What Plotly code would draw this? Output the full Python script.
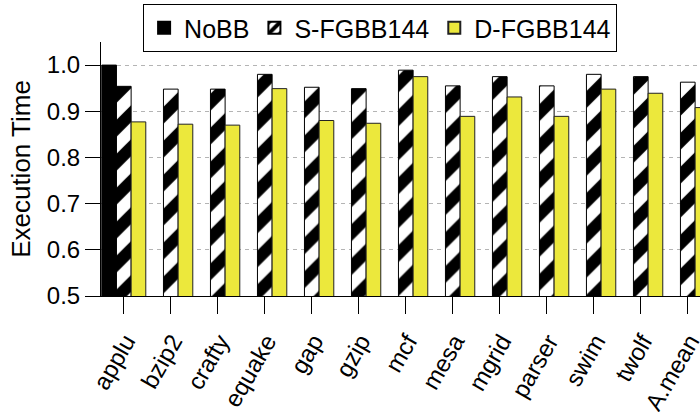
import plotly.graph_objects as go

benchmarks = ["applu", "bzip2", "crafty", "equake", "gap", "gzip", "mcf",
              "mesa", "mgrid", "parser", "swim", "twolf", "A.mean"]

# Normalised execution time (NoBB baseline only shown for the first benchmark)
nobb = [1.0, None, None, None, None, None, None, None, None, None, None, None, None]
s_fgbb144 = [0.954, 0.948, 0.948, 0.980, 0.952, 0.949, 0.989,
             0.955, 0.975, 0.955, 0.980, 0.975, 0.963]
d_fgbb144 = [0.877, 0.872, 0.870, 0.949, 0.880, 0.874, 0.975,
             0.889, 0.931, 0.889, 0.948, 0.939, 0.908]

yticks = [0.5, 0.6, 0.7, 0.8, 0.9, 1.0]

FONT = "Liberation Sans, Arial, Helvetica, sans-serif"

fig = go.Figure()
fig.add_trace(go.Bar(
    name="NoBB", x=benchmarks, y=nobb,
    marker=dict(color="black", line=dict(color="black", width=1)),
))
fig.add_trace(go.Bar(
    name="S-FGBB144", x=benchmarks, y=s_fgbb144,
    marker=dict(color="white", line=dict(color="black", width=1),
                pattern=dict(shape="/", fgcolor="black", bgcolor="white",
                             size=24, solidity=0.5, fillmode="replace")),
))
fig.add_trace(go.Bar(
    name="D-FGBB144", x=benchmarks, y=d_fgbb144,
    marker=dict(color="#ece83c", line=dict(color="#222222", width=1)),
))

fig.update_layout(
    width=700, height=412,
    margin=dict(l=101, r=0, t=42, b=116, autoexpand=False),
    paper_bgcolor="white", plot_bgcolor="white",
    barmode="group", bargap=0.064, bargroupgap=0,
    font=dict(family=FONT, size=24, color="black"),
    showlegend=True,
    legend=dict(
        orientation="h", xref="container", yref="container",
        x=0.543, xanchor="center", y=0.99, yanchor="top",
        bordercolor="black", borderwidth=1, bgcolor="white",
        font=dict(family=FONT, size=25), traceorder="normal",
        itemsizing="constant", itemwidth=30,
    ),
    xaxis=dict(
        type="category", categoryorder="array", categoryarray=benchmarks,
        range=[-0.485, 12.26], automargin=False,
        showline=True, linecolor="black", linewidth=1,
        ticks="outside", ticklen=17, tickcolor="black", tickwidth=1,
        tickangle=-60, tickfont=dict(size=24), showgrid=False,
        ticklabelstandoff=4, ticklabelshift=2,
    ),
    yaxis=dict(
        range=[0.5, 1.05], tickvals=yticks, automargin=False,
        ticktext=[f"{v:.1f}" for v in yticks],
        showline=True, linecolor="black", linewidth=1,
        ticks="outside", ticklen=15, tickcolor="black", tickwidth=1,
        tickfont=dict(size=24),
        showgrid=True, gridcolor="#b4b4b4", gridwidth=1, griddash="4px,4px",
        zeroline=False,
        title=dict(text="Execution Time", font=dict(size=26), standoff=8),
    ),
)

fig.write_html("out.html")
